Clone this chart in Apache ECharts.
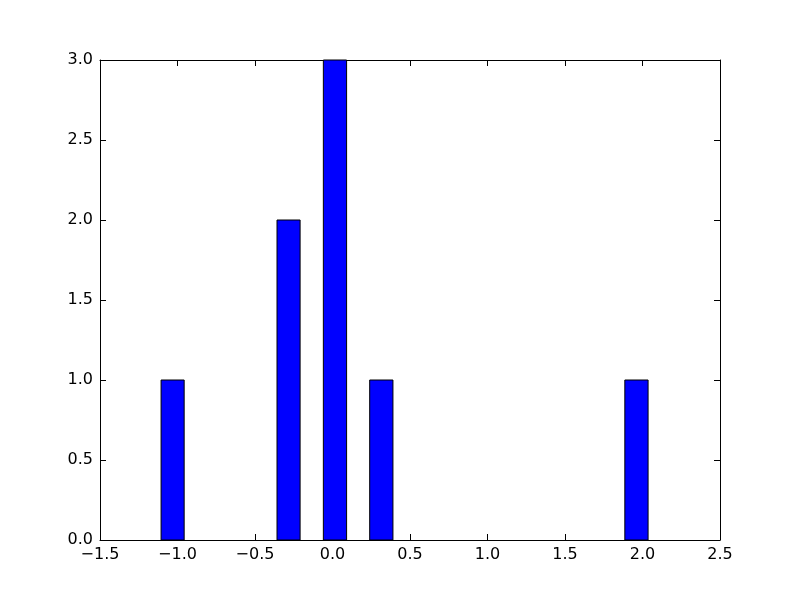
<!DOCTYPE html>
<html>
<head>
<meta charset="utf-8">
<script src="https://cdn.jsdelivr.net/npm/echarts@6/dist/echarts.min.js"></script>
<style>html,body{margin:0;padding:0;background:#fff}#c{width:800px;height:600px}</style>
</head>
<body>
<div id="c"></div>
<script>
// Histogram bins (left edge, right edge) and counts
var binStart = [-1.106, -0.358, -0.059, 0.240, 1.886];
var binEnd   = [-0.957, -0.209,  0.091, 0.390, 2.036];
var counts   = [1, 2, 3, 1, 1];
var xTicks = [-1.5, -1.0, -0.5, 0.0, 0.5, 1.0, 1.5, 2.0, 2.5];
var yTicks = [0.0, 0.5, 1.0, 1.5, 2.0, 2.5, 3.0];

function fmt(v){ var s = Math.abs(v).toFixed(1); return (v < 0 ? '\u2212' : '') + s; }

var data = binStart.map(function(s, i){ return [s, binEnd[i], counts[i]]; });
var font = {fontFamily: 'DejaVu Sans', fontSize: 16, color: '#000'};
var tickIn = {show: true, inside: true, length: 6, lineStyle: {color: '#000', width: 1}};

var chart = echarts.init(document.getElementById('c'), null, {renderer: 'canvas'});
chart.setOption({
  backgroundColor: '#fff',
  animation: false,
  grid: {left: 100, right: 80, top: 60, bottom: 60, show: false},
  xAxis: [{
    type: 'value', min: -1.5, max: 2.5, interval: 0.5, position: 'bottom',
    axisLine: {show: true, onZero: false, lineStyle: {color: '#000', width: 1}},
    axisTick: tickIn,
    splitLine: {show: false},
    axisLabel: Object.assign({margin: 7, formatter: fmt}, font)
  }, {
    type: 'value', min: -1.5, max: 2.5, interval: 0.5, position: 'top',
    axisLine: {show: true, onZero: false, lineStyle: {color: '#000', width: 1}},
    axisTick: tickIn, splitLine: {show: false}, axisLabel: {show: false}
  }],
  yAxis: [{
    type: 'value', min: 0, max: 3, interval: 0.5, position: 'left',
    axisLine: {show: true, onZero: false, lineStyle: {color: '#000', width: 1}},
    axisTick: tickIn,
    splitLine: {show: false},
    axisLabel: Object.assign({margin: 7, formatter: fmt}, font)
  }, {
    type: 'value', min: 0, max: 3, interval: 0.5, position: 'right',
    axisLine: {show: true, onZero: false, lineStyle: {color: '#000', width: 1}},
    axisTick: tickIn, splitLine: {show: false}, axisLabel: {show: false}
  }],
  series: [{
    type: 'custom',
    xAxisIndex: 0, yAxisIndex: 0,
    data: data,
    encode: {x: [0, 1], y: 2},
    renderItem: function(params, api){
      var p0 = api.coord([api.value(0), api.value(2)]);
      var p1 = api.coord([api.value(1), 0]);
      return {
        type: 'rect',
        shape: {x: p0[0], y: p0[1], width: p1[0] - p0[0], height: p1[1] - p0[1]},
        style: {fill: '#0000ff', stroke: '#000', lineWidth: 1}
      };
    }
  }]
});
</script>
</body>
</html>
